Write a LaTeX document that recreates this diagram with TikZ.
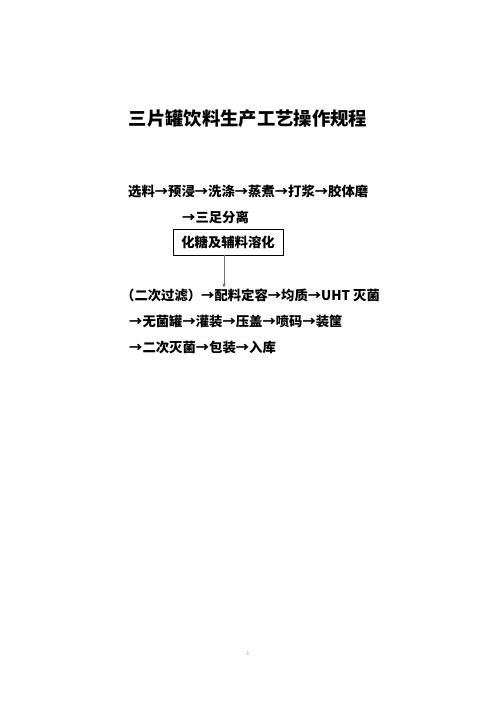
\documentclass[tikz,border=0pt]{standalone}
\usepackage{fontspec}
\newfontfamily\cjk{Noto Sans CJK SC}
\usetikzlibrary{arrows.meta}

\tikzset{
	steptext/.style = {anchor = west, inner sep = 0pt, font = \cjk\bfseries\fontsize{16pt}{18pt}\selectfont},
	stepbox/.style = {draw = black, thin, minimum width = 132pt, minimum height = 31pt, inner sep = 0pt, font = \cjk\bfseries\fontsize{16pt}{18pt}\selectfont}
}

\begin{document}
\begin{tikzpicture}[x = 1.2pt, y = -1.2pt]

	\useasboundingbox (0, 0) rectangle (496, 702);

	% Title

	\node (title) [inner sep = 0pt, font = \cjk\bfseries\fontsize{22pt}{24pt}\selectfont] at (248, 119) {三片罐饮料生产工艺操作规程};

	% Process steps

	\node (line1) [steptext] at (128, 191) {选料→预浸→洗涤→蒸煮→打浆→胶体磨};
	\node (line2) [steptext] at (182, 217) {→三足分离};
	\node (box) [stepbox] at (228, 242) {化糖及辅料溶化};
	\node (line3) [steptext] at (121, 295) {（二次过滤）→配料定容→均质→UHT 灭菌};
	\node (line4) [steptext] at (129, 321) {→无菌罐→灌装→压盖→喷码→装筐};
	\node (line5) [steptext] at (129, 347) {→二次灭菌→包装→入库};

	% Arrow

	\draw [black!55, line width = 1pt, -{Stealth[length = 5pt, width = 4.5pt]}] ([xshift = -4.8pt] box.south) -- ([xshift = -4.8pt, yshift = 1pt] box.south |- line3.north);

	% Page number

	\node (page) [gray, inner sep = 0pt, font = \fontsize{7pt}{8pt}\selectfont] at (248, 654) {1};

\end{tikzpicture}
\end{document}
